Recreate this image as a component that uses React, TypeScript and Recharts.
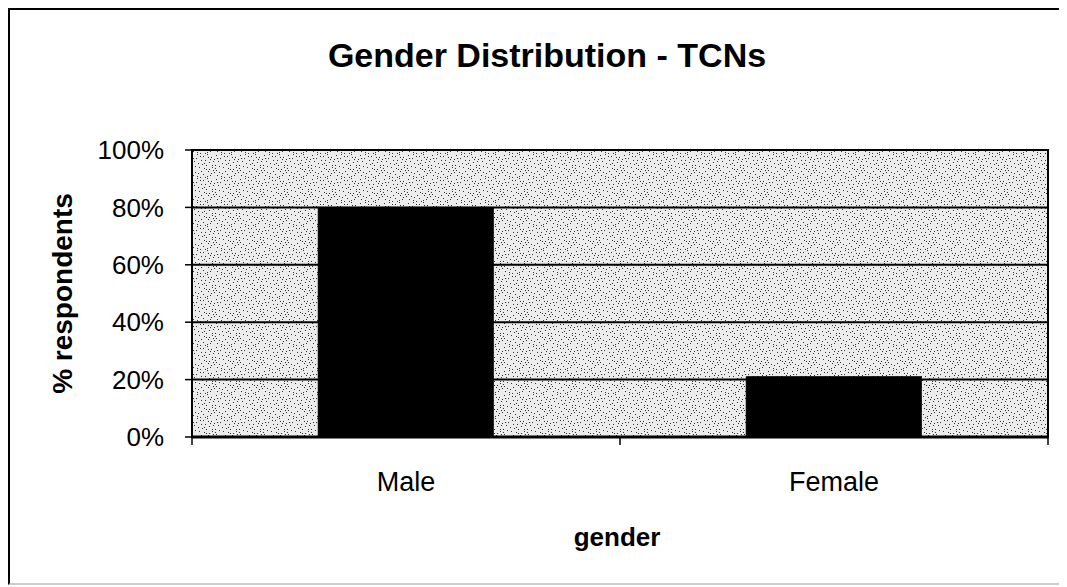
import { BarChart, Bar, XAxis, YAxis, CartesianGrid, ReferenceArea } from 'recharts'

const categories = ['Male', 'Female']
const shares = [80, 21]
const yTicks = [0, 20, 40, 60, 80, 100]

const FONT = '"Liberation Sans", Arial, sans-serif'

// fixed speckle spots for the stippled plot background (24px tile)
const SPECKLES = [
  [1, 2], [5, 0], [9, 3], [3, 6], [7, 8], [11, 7], [0, 10], [4, 11], [8, 5], [10, 11], [6, 3], [2, 9],
  [14, 1], [18, 4], [22, 2], [16, 7], [20, 9], [13, 11], [23, 6], [15, 4], [19, 0],
  [2, 14], [6, 17], [10, 13], [1, 20], [5, 22], [9, 19], [11, 16], [3, 23], [7, 15],
  [13, 14], [17, 18], [21, 13], [15, 21], [19, 22], [23, 17], [14, 16], [20, 19], [22, 23],
  [12, 5], [12, 18], [8, 21], [17, 12], [4, 15],
]

const data = categories.map((name, i) => ({ name, value: shares[i] }))

function GenderTick(props: any) {
  const { x, y, payload, index, visibleTicksCount } = props
  const off = payload && typeof payload.offset === 'number' ? payload.offset : 0
  return (
    <g>
      {off > 0 && <line x1={x - off} y1={y} x2={x - off} y2={y + 8} stroke="#000" strokeWidth={1.5} />}
      {off > 0 && index === visibleTicksCount - 1 && (
        <line x1={x + off} y1={y} x2={x + off} y2={y + 8} stroke="#000" strokeWidth={1.5} />
      )}
      <text x={x} y={y + 54} textAnchor="middle" fontSize={27} fontFamily={FONT} fill="#000">
        {payload.value}
      </text>
    </g>
  )
}

export default function App() {
  return (
    <div
      style={{
        position: 'relative',
        width: 1059,
        height: 577,
        boxSizing: 'border-box',
        borderTop: '2px solid #000',
        borderLeft: '2px solid #000',
        borderBottom: '2px solid #ccc',
        background: '#fff',
        fontFamily: FONT,
      }}
    >
      <div
        style={{
          position: 'absolute',
          top: 25,
          left: 12,
          width: 1050,
          textAlign: 'center',
          fontSize: 34,
          lineHeight: '40px',
          fontWeight: 'bold',
          color: '#000',
        }}
      >
        Gender Distribution - TCNs
      </div>
      <BarChart
        width={1057}
        height={573}
        data={data}
        margin={{ top: 140, right: 19, bottom: 0, left: 0 }}
        barCategoryGap="29.5%"
      >
        <defs>
          <pattern id="stipple" width={24} height={24} patternUnits="userSpaceOnUse">
            <rect width={24} height={24} fill="#ececec" />
            {SPECKLES.map(([px, py], i) => (
              <rect key={i} x={px} y={py} width={1} height={1} fill="#333" />
            ))}
          </pattern>
        </defs>
        <CartesianGrid
          vertical={false}
          stroke="#000"
          strokeWidth={2}
          fill="url(#stipple)"
          fillOpacity={1}
        />
        <XAxis
          dataKey="name"
          height={146}
          axisLine={{ stroke: '#000', strokeWidth: 3 }}
          tickLine={false}
          tickSize={0}
          tickMargin={0}
          tick={<GenderTick />}
          interval={0}
          label={{
            content: (p: any) => {
              const vb = p.viewBox
              return (
                <text
                  x={vb.x + vb.width / 2 - 3}
                  y={vb.y + 100}
                  dy="0.35em"
                  textAnchor="middle"
                  fontSize={26}
                  fontWeight="bold"
                  fontFamily={FONT}
                  fill="#000"
                >
                  gender
                </text>
              )
            },
          }}
        />
        <YAxis
          width={182}
          domain={[0, 100]}
          ticks={yTicks}
          interval={0}
          tickFormatter={(v: number) => `${v}%`}
          axisLine={{ stroke: '#000', strokeWidth: 2 }}
          tickLine={{ stroke: '#000', strokeWidth: 1.5 }}
          tickSize={7}
          tickMargin={21}
          tick={{ fontSize: 26, fill: '#000', fontFamily: FONT }}
          label={{
            content: (p: any) => {
              const vb = p.viewBox
              const cy = vb.y + vb.height / 2
              return (
                <text
                  x={52}
                  y={cy}
                  dy="0.35em"
                  textAnchor="middle"
                  transform={`rotate(-90, 52, ${cy})`}
                  fontSize={28}
                  fontWeight="bold"
                  fontFamily={FONT}
                  fill="#000"
                >
                  % respondents
                </text>
              )
            },
          }}
        />
        <Bar dataKey="value" fill="#000" stroke="#000" isAnimationActive={false} />
        <ReferenceArea y1={0} y2={100} fill="none" stroke="#000" strokeWidth={2} ifOverflow="visible" />
      </BarChart>
    </div>
  )
}
